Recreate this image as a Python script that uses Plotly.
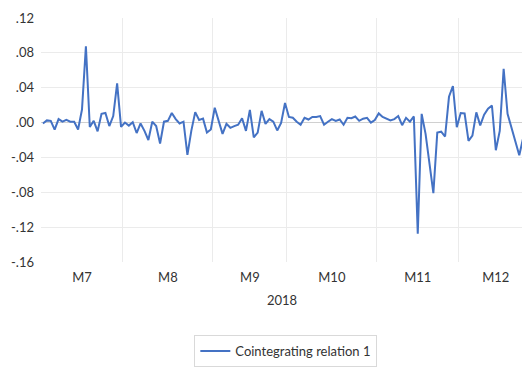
import plotly.graph_objects as go

# Trading-day observations, Jul-Dec 2018
month_labels = ["M7", "M8", "M9", "M10", "M11", "M12"]
month_days = [21, 23, 19, 23, 21, 19]  # trading days per month
year_label = "2018"
series_name = "Cointegrating relation 1"

values = [
    -0.001, 0.0025, 0.002, -0.008, 0.004, 0.001, 0.003, 0.001, 0.001, -0.008,
    0.015, 0.0875, -0.005, 0.002, -0.010, 0.010, 0.011, -0.004, 0.0075, 0.045,
    -0.005, 0.000,
    -0.0035, 0.0005, -0.012, -0.001, -0.0095, -0.020, 0.001, -0.004, -0.024, 0.001,
    0.002, 0.011, 0.004, -0.001, 0.001, -0.037, -0.0095, 0.012, 0.003, 0.0045,
    -0.0115, -0.008, 0.017,
    0.003, -0.013, -0.0015, -0.006, -0.004, -0.0025, 0.005, -0.0095, 0.0145, -0.017,
    -0.0115, 0.0135, -0.0015, 0.004, 0.001, -0.009, -0.0005, 0.0225, 0.0065, 0.0055,
    0.001, -0.0025,
    0.0055, 0.0035, 0.0065, 0.0065, 0.0075, -0.0025, 0.001, 0.004, 0.002, 0.0035,
    -0.0025, 0.0055, 0.005, 0.007, 0.002, 0.0045, 0.0055, 0.000, 0.003, 0.0105,
    0.0064, 0.004, 0.0025, 0.004, 0.0075, -0.003, 0.0054, 0.001, 0.007, -0.1275,
    0.010, -0.013, -0.045, -0.081, -0.0115, -0.0105, -0.016,
    0.0296, 0.042, -0.0054, 0.011, 0.0104, -0.021, -0.015, 0.0118, -0.0032, 0.009,
    0.016, 0.0196, -0.0318, -0.0096, 0.0618, 0.010, -0.006, -0.022, -0.0375, -0.0175,
]

y_tickvals = [0.12, 0.08, 0.04, 0.0, -0.04, -0.08, -0.12, -0.16]
y_ticktext = [".12", ".08", ".04", ".00", "-.04", "-.08", "-.12", "-.16"]

x = list(range(len(values)))

# month boundaries and mid positions from month lengths
starts = []
s = 0
for d in month_days:
    starts.append(s)
    s += d
boundaries = [st - 0.5 for st in starts[1:]]
mids = [st + (d - 1) / 2 for st, d in zip(starts, month_days)]

FONT = "Lato, 'Open Sans', sans-serif"
TXT = "#333333"
GRID = "#ebebeb"

fig = go.Figure()
fig.add_trace(go.Scatter(
    x=x, y=values, mode="lines", name=series_name,
    line=dict(color="#4472C4", width=2),
    showlegend=True,
))

fig.update_layout(
    width=522, height=367,
    margin=dict(l=41, r=0, t=18, b=87),
    paper_bgcolor="white", plot_bgcolor="white",
    font=dict(family=FONT, size=13, color=TXT),
    showlegend=True,
    legend=dict(
        orientation="h", x=0.509, xanchor="center", y=-0.30, yanchor="top",
        bordercolor="#d9d9d9", borderwidth=1, bgcolor="white",
        font=dict(family=FONT, size=13, color=TXT),
        itemwidth=30,
    ),
    xaxis=dict(
        range=[-0.5, 122.7],
        tickmode="array", tickvals=mids, ticktext=month_labels,
        showgrid=False, zeroline=False, showline=False, ticks="",
        ticklabelstandoff=6,
        minor=dict(tickmode="array", tickvals=boundaries, showgrid=True,
                   gridcolor=GRID, gridwidth=1, ticks=""),
    ),
    yaxis=dict(
        range=[-0.16, 0.12],
        tickmode="array", tickvals=y_tickvals, ticktext=y_ticktext,
        showgrid=True, gridcolor=GRID, gridwidth=1,
        zeroline=True, zerolinecolor="#d0d0d0", zerolinewidth=1,
        showline=False, ticks="", ticklabelstandoff=6,
    ),
    annotations=[dict(
        text=year_label, x=0.5, xref="paper", y=0, yref="paper",
        xanchor="center", yanchor="middle", yshift=-38, showarrow=False,
        font=dict(family=FONT, size=13, color=TXT),
    )],
)

fig.write_html("out.html")
